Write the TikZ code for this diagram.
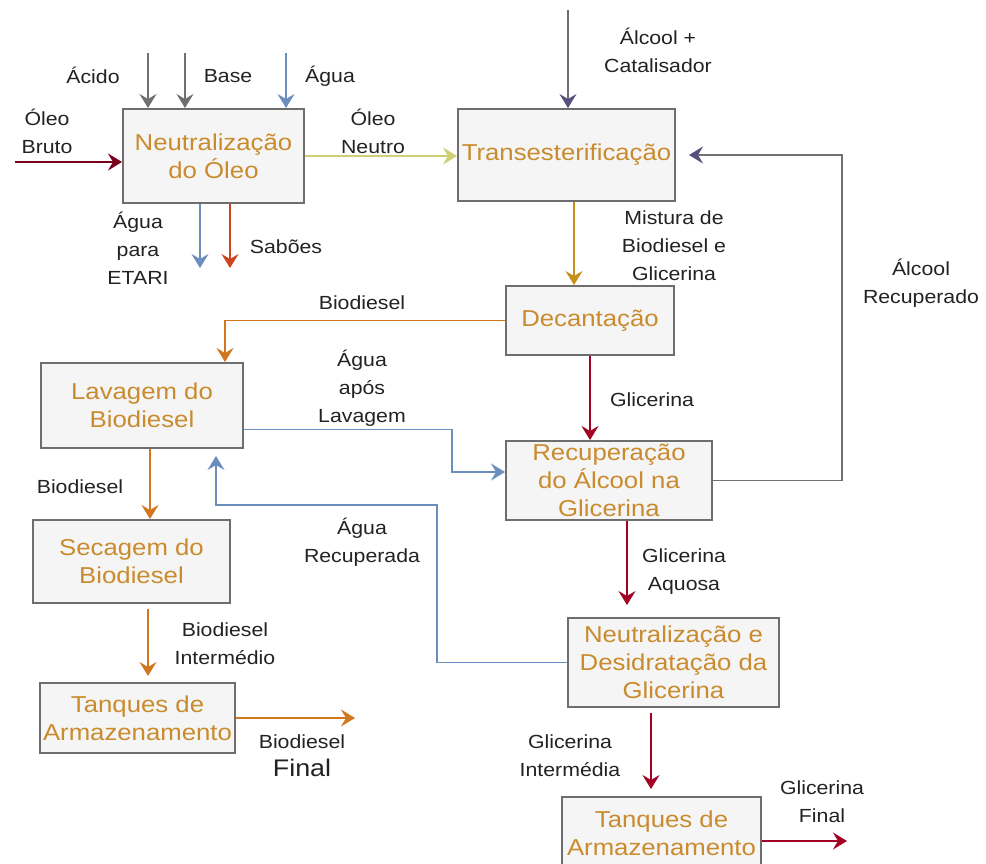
\documentclass[tikz,border=0pt]{standalone}
\usepackage{fontspec}
\setmainfont{Liberation Sans}[FakeStretch=1.12]
\usepackage{tikz}
\usetikzlibrary{positioning, arrows.meta}

\definecolor{boxfill}{HTML}{F5F5F5}
\definecolor{boxline}{HTML}{6E6E6E}
\definecolor{boxtext}{HTML}{C98B2E}
\definecolor{lblgray}{HTML}{222222}
\definecolor{flowgray}{HTML}{707070}
\definecolor{flowslate}{HTML}{56517E}
\definecolor{flowblue}{HTML}{6C8EBF}
\definecolor{flowyellow}{HTML}{CFCF73}
\definecolor{flowgold}{HTML}{C8901A}
\definecolor{floworange}{HTML}{D0771F}
\definecolor{flowred}{HTML}{A20025}
\definecolor{flowsoap}{HTML}{CC4420}

\tikzset{
  proc/.style={draw=boxline, fill=boxfill, line width=1pt, text=boxtext, align=center,
    inner sep=0pt, font=\fontsize{11.5}{14}\selectfont},
  lbl/.style={text=lblgray, align=center, inner sep=0pt, font=\fontsize{9.5}{14}\selectfont},
  flow/.style={line width=0.9pt, -{Stealth[length=7pt, width=8.5pt, inset=2.5pt]}},
  slatetip/.style={line width=0.9pt, -{Stealth[length=7pt, width=8.5pt, inset=2.5pt, color=flowslate]}},
}

\begin{document}
\begin{tikzpicture}[x=0.5pt, y=-0.5pt]
  \useasboundingbox (0,0) rectangle (986,863);

  % process boxes
  \node[proc, minimum width=90.5pt, minimum height=47pt] (neut) at (213.5,156) {Neutralização\\do Óleo};
  \node[proc, minimum width=108.5pt, minimum height=46pt] (trans) at (566.5,155) {Transesterificação};
  \node[proc, minimum width=84pt, minimum height=34.5pt] (dec) at (590,320.5) {Decantação};
  \node[proc, minimum width=101pt, minimum height=42.5pt] (lav) at (142,405.5) {Lavagem do\\Biodiesel};
  \node[proc, minimum width=103pt, minimum height=39.5pt] (rec) at (609,480.5) {Recuperação\\do Álcool na\\Glicerina};
  \node[proc, minimum width=98.5pt, minimum height=41.5pt] (sec) at (131.5,561.5) {Secagem do\\Biodiesel};
  \node[proc, minimum width=97.5pt, minimum height=35pt] (tqbio) at (137.5,718) {Tanques de\\Armazenamento};
  \node[proc, minimum width=105.5pt, minimum height=44.5pt] (nd) at (673.5,662.5) {Neutralização e\\Desidratação da\\Glicerina};
  \node[proc, minimum width=99.5pt, minimum height=36pt] (tqgli) at (661.5,833) {Tanques de\\Armazenamento};

  % free ends
  \coordinate (brutoIn) at (15,162);
  \coordinate (acidoIn) at (148,53);
  \coordinate (baseIn) at (185,53);
  \coordinate (aguaIn) at (286,53);
  \coordinate (etariOut) at (200,268);
  \coordinate (sabaoOut) at (230,268);
  \coordinate (alcoolIn) at (568,10);
  \coordinate (bioFinal) at (355,718);
  \coordinate (gliFinal) at (847,841);

  % neutralizacao do oleo
  \draw[flow, flowred!75!black] (brutoIn) -- (brutoIn -| neut.west);
  \draw[flow, flowgray] (acidoIn) -- (acidoIn |- neut.north);
  \draw[flow, flowgray] (baseIn) -- (baseIn |- neut.north);
  \draw[flow, flowblue] (aguaIn) -- (aguaIn |- neut.north);
  \draw[flow, flowblue] (etariOut |- neut.south) -- (etariOut);
  \draw[flow, flowsoap] (sabaoOut |- neut.south) -- (sabaoOut);
  \draw[flow, flowyellow] (neut.east) -- (neut.east -| trans.west);

  % transesterificacao e decantacao
  \draw[flowgray, slatetip] (alcoolIn) -- (alcoolIn |- trans.north);
  \draw[flow, flowgold] ([xshift=3.75pt]trans.south) -- ([xshift=3.75pt]trans.south |- dec.north);
  \draw[flow, floworange] (dec.west) -| ([xshift=41.5pt]lav.north);
  \draw[flow, flowred] (dec.south) -- (dec.south |- rec.north);
  \draw[flowgray, slatetip, shorten >=6.5pt] (rec.east) -| (842,155) -- (trans.east);

  % biodiesel
  \draw[flow, flowblue] ([yshift=-12pt]lav.east) -| (452,472) -- ([yshift=4.25pt]rec.west);
  \draw[flow, floworange] ([xshift=4pt]lav.south) -- ([xshift=4pt]lav.south |- sec.north);
  \draw[flow, floworange, shorten <=2.5pt, shorten >=3pt] ([xshift=8.25pt]sec.south) -- ([xshift=8.25pt]sec.south |- tqbio.north);
  \draw[flow, floworange] (tqbio.east) -- (bioFinal);

  % glicerina
  \draw[flow, flowblue, shorten >=3.5pt] (nd.west) -| (437,505) -| ([xshift=37pt]lav.south);
  \draw[flow, flowred, shorten >=6pt] ([xshift=9pt]rec.south) -- ([xshift=9pt]rec.south |- nd.north);
  \draw[flow, flowred, shorten <=2.5pt, shorten >=3.5pt] ([xshift=-11.25pt]nd.south) -- ([xshift=-11.25pt]nd.south |- tqgli.north);
  \draw[flow, flowred] ([yshift=-4pt]tqgli.east) -- (gliFinal);

  % labels
  \node[lbl] (lBruto) at (47,131) {Óleo\\Bruto};
  \node[lbl] (lAcido) at (93,75) {Ácido};
  \node[lbl] (lBase) at (228,76) {Base};
  \node[lbl] (lAgua) at (330,76) {Água};
  \node[lbl] (lNeutro) at (373,131) {Óleo\\Neutro};
  \node[lbl] (lEtari) at (138,248) {Água\\para\\ETARI};
  \node[lbl] (lSabao) at (286,247) {Sabões};
  \node[lbl] (lAlcool) at (658,50) {Álcool +\\Catalisador};
  \node[lbl] (lMistura) at (674,246) {Mistura de\\Biodiesel e\\Glicerina};
  \node[lbl] (lRecup) at (921,283) {Álcool\\Recuperado};
  \node[lbl] (lBioDec) at (362,303) {Biodiesel};
  \node[lbl] (lGliDec) at (652,400) {Glicerina};
  \node[lbl] (lAposLav) at (362,388) {Água\\após\\Lavagem};
  \node[lbl] (lBioLav) at (80,487) {Biodiesel};
  \node[lbl] (lAguaRec) at (362,542) {Água\\Recuperada};
  \node[lbl] (lAquosa) at (684,572) {Glicerina\\Aquosa};
  \node[lbl] (lBioInt) at (225,644) {Biodiesel\\Intermédio};
  \node[lbl] (lBioFin) at (302,756) {Biodiesel\\{\fontsize{12}{14}\selectfont Final}};
  \node[lbl] (lGliInt) at (570,756) {Glicerina\\Intermédia};
  \node[lbl] (lGliFin) at (822,802) {Glicerina\\Final};
\end{tikzpicture}
\end{document}
